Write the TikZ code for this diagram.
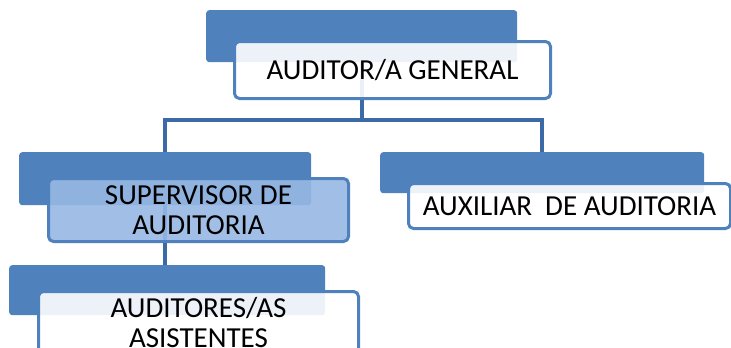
\documentclass[tikz,border=0pt]{standalone}
\usepackage{fontspec}
\setmainfont{Carlito}
\usetikzlibrary{positioning}

\definecolor{boxblue}{HTML}{4F81BD}
\definecolor{linkblue}{HTML}{3C6AA6}
\definecolor{paleblue}{HTML}{97B8E3}

\tikzset{
  tab/.style={draw=none, fill=boxblue, rounded corners=3pt, anchor=north west, inner sep=0pt},
  card/.style={draw=boxblue, line width=3pt, fill=white, fill opacity=0.9, text opacity=1,
    rounded corners=5pt, anchor=north west, inner sep=0pt, align=center,
    font=\fontsize{29}{29.5}\selectfont},
  link/.style={draw=linkblue, line width=4pt}
}

\begin{document}
\begin{tikzpicture}[x=1pt, y=-1pt]

  \useasboundingbox (0,0) rectangle (731,348);

  % Blue tabs
  \node[tab, minimum width=311pt, minimum height=52pt] (gentab) at (206,10) {};
  \node[tab, minimum width=292pt, minimum height=53pt] (suptab) at (19,152) {};
  \node[tab, minimum width=324pt, minimum height=41pt] (auxtab) at (380,152) {};
  \node[tab, minimum width=316pt, minimum height=50pt] (asitab) at (9,265) {};

  % Connectors
  \draw[link] (gentab.south) -- ++(0,58) coordinate (split);
  \draw[link] (suptab.north) |- (split) -| (auxtab.north);
  \draw[link] (suptab.south) -- (suptab.south |- asitab.north);

  % Cards with text
  \node[card, minimum width=316pt, minimum height=57pt] (gen) at (233,40) {AUDITOR/A GENERAL};
  \node[card, fill=paleblue, minimum width=300pt, minimum height=63pt] (sup) at (47,177) {SUPERVISOR DE\\AUDITORIA};
  \node[card, minimum width=322pt, minimum height=45pt] (aux) at (407,182) {AUXILIAR\ \ DE AUDITORIA};
  \node[card, minimum width=320pt, minimum height=62pt] (asi) at (37,290) {AUDITORES/AS\\ASISTENTES};

\end{tikzpicture}
\end{document}
